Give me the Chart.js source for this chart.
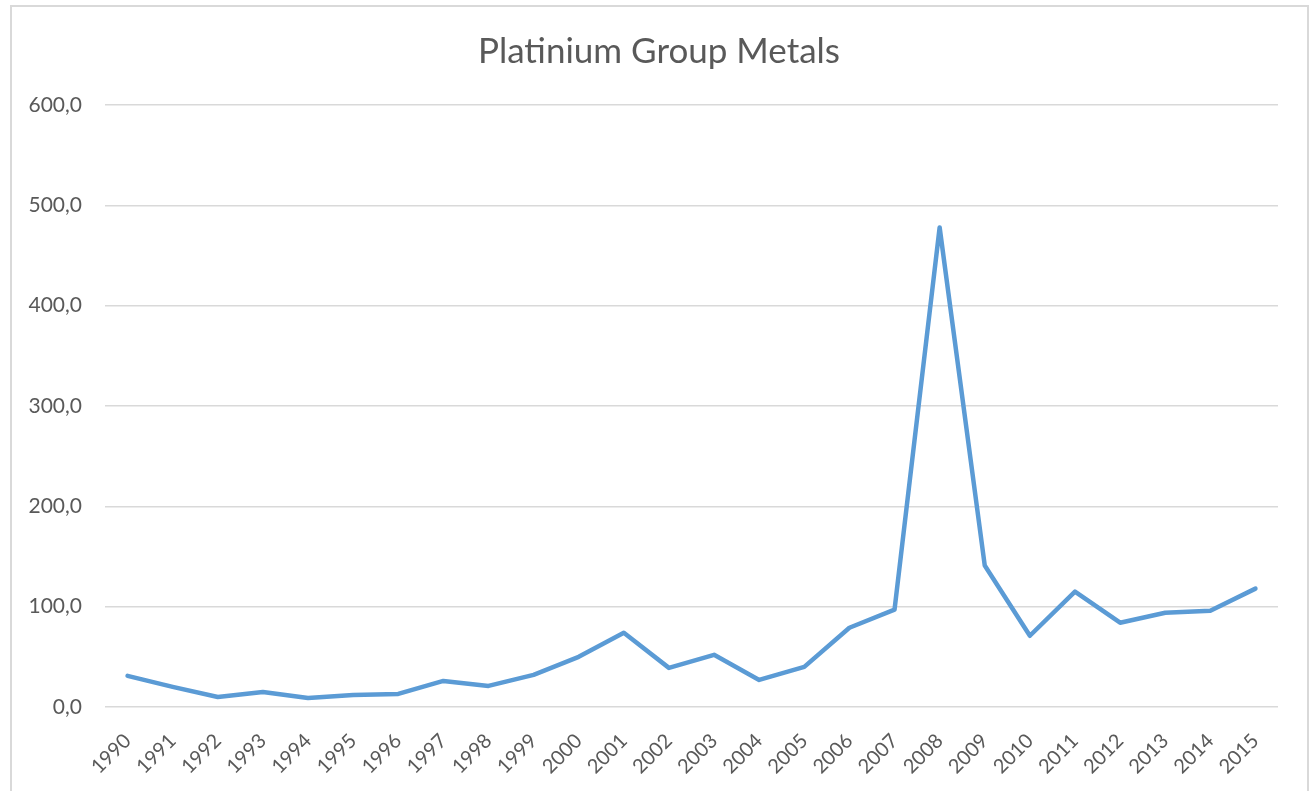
<!DOCTYPE html>
<html>
<head>
<meta charset="utf-8">
<script src="https://cdn.jsdelivr.net/npm/chart.js@4.4.1/dist/chart.umd.min.js"></script>
<style>
    html, body { margin: 0; padding: 0; background: #fff; overflow: hidden; }
    #frame { position: absolute; left: 10px; top: 5px; width: 1295px; height: 820px; border: 2px solid #d9d9d9; }
    #wrap { position: absolute; left: 0; top: 0; width: 1311px; height: 791px; }
</style>
</head>
<body>
<div id="frame"></div>
<div id="wrap"><canvas id="metals-graph" width="1311" height="791"></canvas></div>
<script>
// years and values
const years = ['1990', '1991', '1992', '1993', '1994', '1995', '1996', '1997', '1998', '1999',
    '2000', '2001', '2002', '2003', '2004', '2005', '2006', '2007', '2008', '2009',
    '2010', '2011', '2012', '2013', '2014', '2015'];
const pgmValues = [31, 20, 10, 15, 9, 12, 13, 26, 21, 32,
    50, 74, 39, 52, 27, 40, 79, 97, 478, 141,
    71, 115, 84, 94, 96, 118];
const yTicks = [0, 100, 200, 300, 400, 500, 600];

const gray = '#595959';

// centre the title on the frame, not on the padded layout box
const titleShift = {
    id: 'titleShift',
    afterLayout(chart) {
        if (chart.titleBlock) {
            chart.titleBlock.left = 40;
        }
    }
};

function metalsGraph() { // line chart of the platinum group metals series
    const ctx = document.getElementById('metals-graph').getContext('2d');
    new Chart(ctx, {
        type: 'line',
        data: {
            labels: years,
            datasets: [{
                label: 'Platinium Group Metals',
                data: pgmValues,
                borderColor: '#5b9bd5',
                borderWidth: 4.5,
                borderJoinStyle: 'round',
                borderCapStyle: 'round',
                pointRadius: 0,
                fill: false,
                tension: 0
            }]
        },
        plugins: [titleShift],
        options: {
            responsive: false,
            animation: false,
            layout: { padding: { left: 0, right: 33, top: 0, bottom: 0 } },
            plugins: {
                legend: { display: false },
                tooltip: { enabled: false },
                title: {
                    display: true,
                    text: 'Platinium Group Metals',
                    color: gray,
                    font: { family: 'Lato', size: 35, weight: 'normal' },
                    padding: { top: 31, bottom: 32 }
                }
            },
            scales: {
                x: {
                    offset: true,
                    grid: { display: false },
                    border: { display: false },
                    ticks: {
                        color: gray,
                        font: { family: 'Lato', size: 20 },
                        minRotation: 45,
                        maxRotation: 45,
                        autoSkip: false,
                        padding: 14
                    },
                    afterFit: scale => { scale.height = 84; }
                },
                y: {
                    min: 0,
                    max: 600,
                    afterBuildTicks: scale => { scale.ticks = yTicks.map(v => ({ value: v })); },
                    grid: { color: '#d9d9d9', lineWidth: 1.5, drawTicks: false },
                    border: { display: false },
                    ticks: {
                        color: gray,
                        font: { family: 'Lato', size: 21 },
                        padding: 23,
                        callback: v => v.toFixed(1).replace('.', ',')
                    },
                    afterFit: scale => { scale.width = 105; }
                }
            }
        }
    });
}

window.onload = () => {
    metalsGraph();
}
</script>
</body>
</html>
